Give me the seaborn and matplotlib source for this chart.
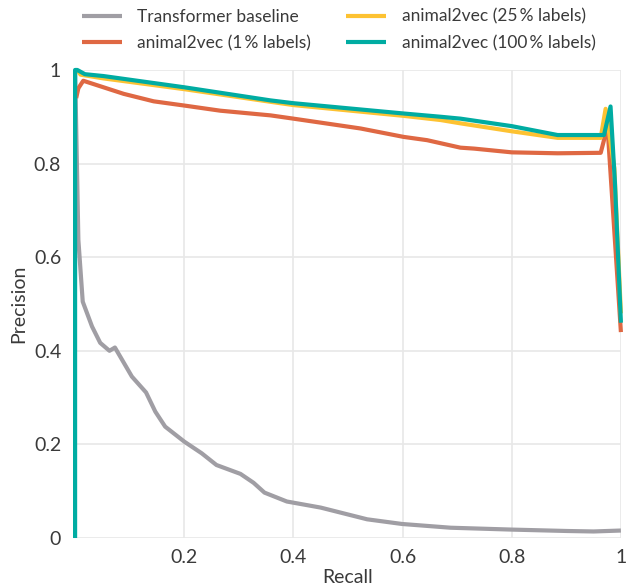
import numpy as np
import pandas as pd
import matplotlib
matplotlib.use("Agg")
import matplotlib.pyplot as plt
import seaborn as sns
from matplotlib import font_manager

# ---- data ----
series_names = ["Transformer baseline", "animal2vec (1\u2009% labels)",
                "animal2vec (25\u2009% labels)", "animal2vec (100\u2009% labels)"]

base_recall = [0.0, 0.006, 0.014, 0.031, 0.046, 0.063, 0.073, 0.104, 0.130, 0.147,
               0.165, 0.200, 0.232, 0.259, 0.303, 0.327, 0.347, 0.388, 0.431, 0.45,
               0.535, 0.599, 0.688, 0.80, 0.902, 0.95, 1.0]
base_prec = [1.0, 0.637, 0.505, 0.452, 0.417, 0.400, 0.407, 0.345, 0.311, 0.270,
             0.238, 0.206, 0.181, 0.156, 0.137, 0.118, 0.097, 0.078, 0.069, 0.065,
             0.040, 0.030, 0.022, 0.018, 0.015, 0.014, 0.016]

one_recall = [0.002, 0.006, 0.015, 0.052, 0.089, 0.144, 0.2, 0.266, 0.358, 0.40,
              0.523, 0.602, 0.645, 0.706, 0.731, 0.80, 0.884, 0.963, 0.969, 0.974, 1.0]
one_prec = [0.94, 0.961, 0.977, 0.963, 0.949, 0.933, 0.924, 0.913, 0.903, 0.896,
            0.875, 0.857, 0.850, 0.834, 0.832, 0.824, 0.822, 0.823, 0.850, 0.905, 0.44]

q_recall = [0.004, 0.010, 0.052, 0.2, 0.358, 0.40, 0.523, 0.602, 0.67, 0.706,
            0.80, 0.884, 0.963, 0.972, 0.988, 1.0]
q_prec = [1.0, 0.990, 0.982, 0.959, 0.932, 0.925, 0.911, 0.902, 0.893, 0.886,
          0.869, 0.855, 0.855, 0.917, 0.79, 0.48]

full_recall = [0.0, 0.0, 0.004, 0.018, 0.052, 0.2, 0.358, 0.40, 0.602, 0.67, 0.706,
               0.80, 0.884, 0.969, 0.981, 0.989, 1.0]
full_prec = [0.0, 1.0, 1.0, 0.991, 0.987, 0.963, 0.935, 0.929, 0.907, 0.900, 0.896,
             0.880, 0.861, 0.861, 0.922, 0.76, 0.46]

colors = ["#a09ea4", "#df6843", "#fdc232", "#00aca2"]

x_ticks = [0.2, 0.4, 0.6, 0.8, 1.0]
x_tick_labels = ["0.2", "0.4", "0.6", "0.8", "1"]
y_ticks = [0.0, 0.2, 0.4, 0.6, 0.8, 1.0]
y_tick_labels = ["0", "0.2", "0.4", "0.6", "0.8", "1"]

# ---- build long table ----
frames = []
for name, r, p in zip(series_names,
                      [base_recall, one_recall, q_recall, full_recall],
                      [base_prec, one_prec, q_prec, full_prec]):
    frames.append(pd.DataFrame({"Recall": r, "Precision": p, "series": name}))
df = pd.concat(frames, ignore_index=True)

sns.set_theme(style="whitegrid")
names = {f.name for f in font_manager.fontManager.ttflist}
fam = "Lato" if "Lato" in names else "DejaVu Sans"
plt.rcParams["font.family"] = [fam, "DejaVu Sans"]

txt = "#3a3a3a"
fig = plt.figure(figsize=(6.31, 5.88), dpi=100)
ax = fig.add_axes([0.119, 0.085, 0.865, 0.796])

sns.lineplot(data=df, x="Recall", y="Precision", hue="series", units="series",
             hue_order=series_names, palette=colors, estimator=None, sort=False,
             linewidth=3.0, ax=ax, legend=True)
for ln in ax.lines:
    ln.set_clip_on(False)
    ln.set_solid_capstyle("butt")

ax.set_xlim(0, 1)
ax.set_ylim(0, 1)
ax.set_xticks(x_ticks)
ax.set_xticklabels(x_tick_labels)
ax.set_yticks(y_ticks)
ax.set_yticklabels(y_tick_labels)
ax.grid(True, color="#e8e8e8", linewidth=1.2)
for s in ax.spines.values():
    s.set_visible(False)
ax.tick_params(axis="both", labelsize=14, labelcolor=txt, length=0)
ax.tick_params(axis="x", pad=8)
ax.tick_params(axis="y", pad=10)
ax.set_xlabel("Recall", fontsize=14, color=txt, labelpad=2)
ax.set_ylabel("Precision", fontsize=14, color=txt, labelpad=5)

handles, labels = ax.get_legend_handles_labels()
ax.get_legend().remove()
leg = fig.legend(handles, labels, ncol=2, frameon=False, loc="upper left",
                 bbox_to_anchor=(0.105, 1.012), fontsize=12.5, handlelength=2.3,
                 handletextpad=0.9, columnspacing=2.0, labelspacing=0.6)
for t in leg.get_texts():
    t.set_color(txt)

fig.savefig("out.png", dpi=100)
